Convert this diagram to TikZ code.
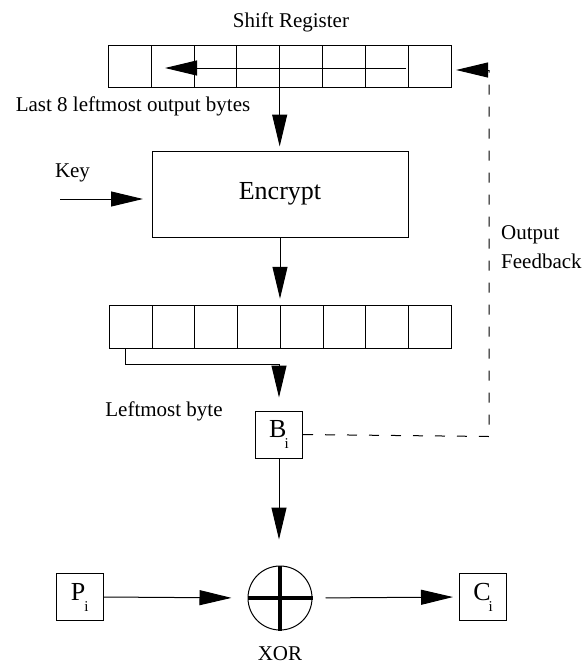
\documentclass[tikz,border=0pt]{standalone}
\usepackage{fontspec}
\setmainfont{Liberation Serif}
\usetikzlibrary{arrows.meta}
\begin{document}
\begin{tikzpicture}[x=1pt,y=-1pt,
  lbl/.style={font=\fontsize{21}{29}\selectfont, inner sep=0},
  cell/.style={draw, line width=0.8pt, minimum width=42.8pt, minimum height=42.5pt, inner sep=0, outer sep=0},
  box/.style={draw, line width=1pt, minimum size=47pt, inner sep=0, font=\fontsize{26}{30}\selectfont},
  conn/.style={line width=1pt, -{Triangle[length=32pt,width=15pt]}},
  fb/.style={line width=1pt, dash pattern=on 10pt off 12pt}]
\useasboundingbox (0,0) rectangle (584,664);

% shift register
\node[lbl] (srl) at (291,22) {Shift Register};
\foreach \i in {1,...,8}
  \node[cell] (s\i) at ({108.3+42.85*(\i-0.5)},66.5) {};
\coordinate (inR) at (406,68);
\coordinate (inL) at (165,68);
\draw[conn] (inR) -- (inL);
\node[lbl] (l8) at (133,106) {Last 8 leftmost output bytes};

% encrypt
\node[draw, line width=1pt, minimum width=256pt, minimum height=86pt, inner sep=0,
      font=\fontsize{26}{30}\selectfont] (enc) at (280,194) {Encrypt};
\draw[conn, shorten >=4pt] (s4.south east) -- (s4.south east |- enc.north);
\node[lbl] (key) at (72.5,173) {Key};
\coordinate (keyin) at (60,199);
\draw[conn, shorten >=8.5pt] (keyin) -- (keyin -| enc.west);

% output register
\foreach \i in {1,...,8}
  \node[cell] (o\i) at ({109.3+42.75*(\i-0.5)},327) {};
\draw[conn, shorten >=7pt] (enc.south) -- (enc.south |- o4.north);

% B_i
\node[box] (B) at (279,434.5) {B\kern-2pt\raisebox{-11pt}{\fontsize{15}{18}\selectfont i}};
\node[lbl] (lb) at (164,411.7) {Leftmost byte};
\draw[conn, shorten >=13pt] ([xshift=-4.7pt]o1.south) -- ++(0,16) -| (B.north);

% output feedback
\coordinate (fbc) at (489,436.5);
\coordinate (fbt) at (489,70);
\draw[fb] (B.east) -- (fbc) -- (fbt);
\draw[conn, shorten >=5pt] (fbt) -- (fbt -| s8.east);
\node[lbl, anchor=west, align=left] (ofb) at (501,247.5) {Output\\Feedback};

% XOR
\node[draw, circle, line width=1pt, minimum size=64pt, inner sep=0] (xor) at (280,598) {};
\draw[line width=4.5pt] (xor.north) -- (xor.south);
\draw[line width=4.5pt] (xor.west) -- (xor.east);
\node[lbl] (xorl) at (280,653.5) {XOR};
\draw[conn, shorten >=26pt] (B.south) -- (B.south |- xor.north);

% P_i and C_i
\node[box] (P) at (79.7,597) {P\kern-1pt\raisebox{-11pt}{\fontsize{15}{18}\selectfont i}};
\node[box] (C) at (483,597) {C\kern-2pt\raisebox{-11pt}{\fontsize{15}{18}\selectfont i}};
\draw[conn, shorten >=16pt] (P.east) -- (xor.west);
\draw[conn, shorten <=13pt, shorten >=6pt] (xor.east) -- (C.west);
\end{tikzpicture}
\end{document}
